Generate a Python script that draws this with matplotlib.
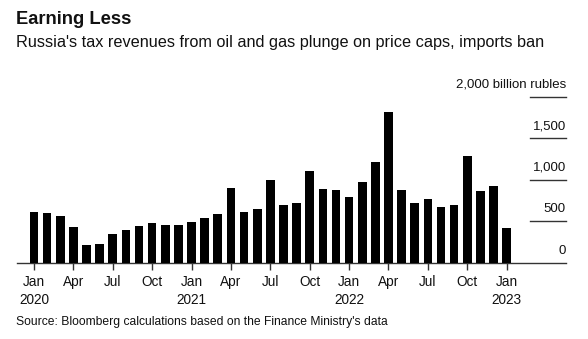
import matplotlib
matplotlib.use("Agg")
import matplotlib.pyplot as plt
import matplotlib.transforms as mtransforms

plt.rcParams['font.family'] = ['Liberation Sans', 'DejaVu Sans']

months = ["Jan 2020", "Feb 2020", "Mar 2020", "Apr 2020", "May 2020", "Jun 2020",
          "Jul 2020", "Aug 2020", "Sep 2020", "Oct 2020", "Nov 2020", "Dec 2020",
          "Jan 2021", "Feb 2021", "Mar 2021", "Apr 2021", "May 2021", "Jun 2021",
          "Jul 2021", "Aug 2021", "Sep 2021", "Oct 2021", "Nov 2021", "Dec 2021",
          "Jan 2022", "Feb 2022", "Mar 2022", "Apr 2022", "May 2022", "Jun 2022",
          "Jul 2022", "Aug 2022", "Sep 2022", "Oct 2022", "Nov 2022", "Dec 2022",
          "Jan 2023"]
revenues = [615, 602, 559, 430, 213, 225, 346, 398, 442, 474, 454, 454,
            487, 539, 583, 896, 615, 647, 996, 691, 715, 1105, 888, 876,
            788, 972, 1213, 1820, 876, 715, 768, 671, 691, 1286, 864, 928,
            422]
tick_labels = ["Jan\n2020", "Apr", "Jul", "Oct", "Jan\n2021", "Apr", "Jul", "Oct",
               "Jan\n2022", "Apr", "Jul", "Oct", "Jan\n2023"]
y_values = [0, 500, 1000, 1500, 2000]
y_labels = ["0", "500", "1,000", "1,500", "2,000 billion rubles"]

W, H = 588, 339
fig = plt.figure(figsize=(W / 100, H / 100), dpi=100)

def px(x0, y0, x1, y1):
    return [x0 / W, 1 - y1 / H, (x1 - x0) / W, (y1 - y0) / H]

ax = fig.add_axes(px(17, 96.7, 566, 262.7))
x = list(range(len(revenues)))
ax.bar(x, revenues, width=0.66, color="black", zorder=3)
ax.set_xlim(-1.295, 40.52)
ax.set_ylim(0, 2000)

for s in ["top", "right", "left"]:
    ax.spines[s].set_visible(False)
ax.spines["bottom"].set_color("#333333")
ax.spines["bottom"].set_linewidth(1.0)
ax.set_yticks([])
ax.set_xticks(list(range(0, len(revenues), 3)))
ax.set_xticklabels(tick_labels, fontsize=9.8, color="#111111", linespacing=1.3)
ax.tick_params(axis="x", length=5, width=1, color="#333333", pad=4)

trans = mtransforms.blended_transform_factory(ax.transAxes, ax.transData)
x0f = (530 - 17) / (566 - 17)
for v, lab in zip(y_values, y_labels):
    if v > 0:
        ax.plot([x0f, 1.0], [v, v], transform=trans, color="#333333", lw=1.0,
                clip_on=False)
    ax.text(1.0, v + 145, lab, transform=trans, ha="right", va="center",
            fontsize=9.5, color="#111111")

fig.text(16 / W, 1 - 19 / H, "Earning Less", fontsize=13.2, fontweight="bold",
         ha="left", va="center", color="#111111")
fig.text(16 / W, 1 - 42 / H,
         "Russia's tax revenues from oil and gas plunge on price caps, imports ban",
         fontsize=11.7, ha="left", va="center", color="#111111")
fig.text(16 / W, 1 - 322 / H,
         "Source: Bloomberg calculations based on the Finance Ministry's data",
         fontsize=8.75, ha="left", va="center", color="#111111")

fig.savefig("out.png", dpi=100)
